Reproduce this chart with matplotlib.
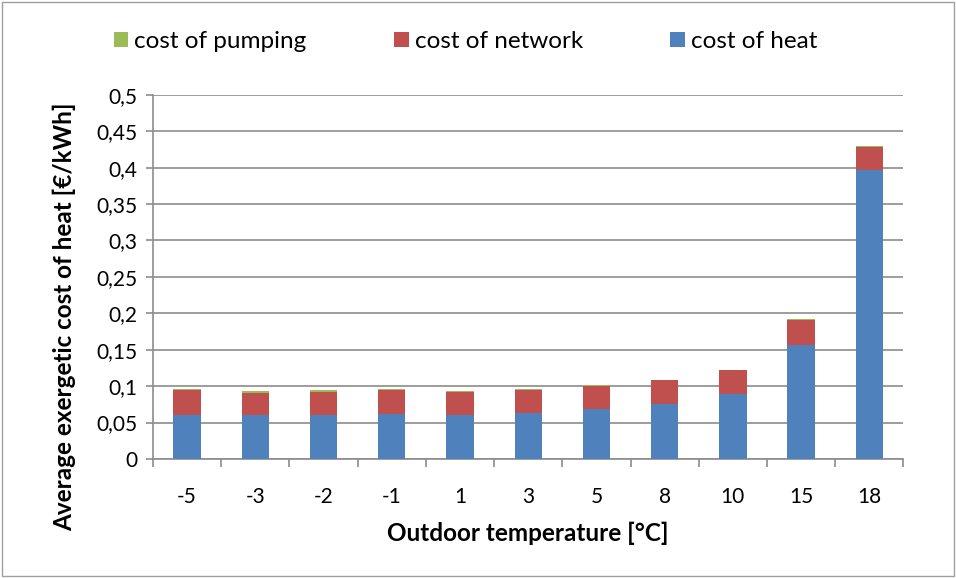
import matplotlib.pyplot as plt
import numpy as np

temps = ['-5', '-3', '-2', '-1', '1', '3', '5', '8', '10', '15', '18']
heat = [0.061, 0.060, 0.061, 0.062, 0.060, 0.063, 0.068, 0.076, 0.089, 0.157, 0.397]
network = [0.033, 0.031, 0.031, 0.032, 0.032, 0.032, 0.032, 0.032, 0.033, 0.034, 0.031]
pumping = [0.002, 0.002, 0.002, 0.002, 0.001, 0.001, 0.001, 0.001, 0.0005, 0.001, 0.0015]

c_heat = '#4f81bd'
c_net = '#c0504d'
c_pump = '#9bbb59'
grid_c = '#8c8c8c'

plt.rcParams['font.family'] = ['Lato', 'DejaVu Sans']
fs = 15

fig = plt.figure(figsize=(9.56, 5.78), dpi=100)
ax = fig.add_axes([0.160, 0.206, 0.785, 0.630])

x = np.arange(len(temps))
w = 0.4
heat = np.array(heat)
network = np.array(network)
pumping = np.array(pumping)
b_heat = ax.bar(x, heat, w, color=c_heat, label='cost of heat', zorder=3)
b_net = ax.bar(x, network, w, bottom=heat, color=c_net, label='cost of network', zorder=3)
b_pump = ax.bar(x, pumping, w, bottom=heat + network, color=c_pump, label='cost of pumping', zorder=3)

ax.set_xlim(-0.5, len(temps) - 0.5)
ax.set_ylim(0, 0.5)
yt = np.arange(0, 0.51, 0.05)
ax.set_yticks(yt)
ax.set_yticklabels(['0' if v == 0 else ('%g' % round(v, 2)).replace('.', ',') for v in yt])
ax.set_xticks(x)
ax.set_xticklabels(temps)
ax.set_xticks(np.arange(-0.5, len(temps)), minor=True)
ax.tick_params(axis='x', which='major', length=0, pad=20, labelsize=fs)
ax.tick_params(axis='x', which='minor', length=6, color=grid_c, width=1.2)
ax.tick_params(axis='y', length=5, color=grid_c, width=1.2, labelsize=fs, pad=6)
ax.yaxis.grid(True, color=grid_c, linewidth=1.2, zorder=0)
ax.set_axisbelow(True)
for s in ['top', 'right']:
    ax.spines[s].set_visible(False)
for s in ['left', 'bottom']:
    ax.spines[s].set_color(grid_c)
    ax.spines[s].set_linewidth(1.2)

ax.set_xlabel('Outdoor temperature [°C]', fontsize=17.5, fontweight='bold', labelpad=11)
ax.set_ylabel('Average exergetic cost of heat [€/kWh]', fontsize=17.5, fontweight='bold')
ax.yaxis.set_label_coords(-0.103, 0.39)

fig.legend(handles=[b_pump, b_net, b_heat], loc='center', bbox_to_anchor=(0.487, 0.928),
           ncol=3, frameon=False, fontsize=17.5, handlelength=0.6, handleheight=0.6,
           handletextpad=0.25, columnspacing=3.6)

fig.patches.append(plt.Rectangle((0.002, 0.003), 0.996, 0.994, transform=fig.transFigure,
                                 fill=False, edgecolor='#a0a0a0', linewidth=1))

fig.savefig('out.png', dpi=100)
